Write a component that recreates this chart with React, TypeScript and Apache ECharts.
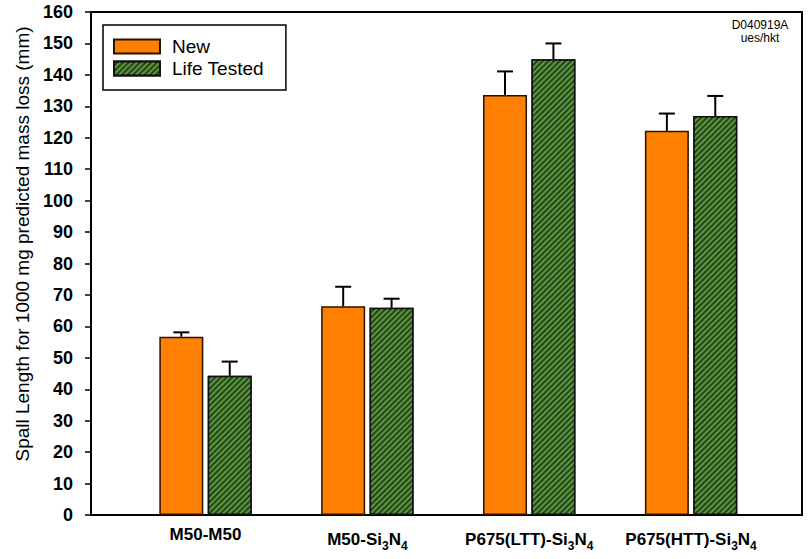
import React, { useEffect, useRef } from "react";
import * as echarts from "echarts";

const categories = ["M50-M50", "M50-Si3N4", "P675(LTT)-Si3N4", "P675(HTT)-Si3N4"];
const seriesNames = ["New", "Life Tested"];
const newValues = [56.7, 66.4, 133.6, 122.2];
const newErrors = [1.4, 6.2, 7.5, 5.5];
const lifeValues = [44.3, 65.9, 145.0, 126.9];
const lifeErrors = [4.5, 2.9, 5.0, 6.4];
const yMin = 0;
const yMax = 160;
const yInterval = 10;
const yTitle = "Spall Length for 1000 mg predicted mass loss (mm)";
const stampLines = ["D040919A", "ues/hkt"];

const FONT = '"Liberation Sans", Arial, Helvetica, sans-serif';
const BAR_W = 44;
const BAR_GAP = 0.1;
const OFFSET = BAR_W / 2 + (BAR_W * BAR_GAP) / 2;

function fmtLabel(s: string) {
  return s.replace(/Si3N4/, "Si{s|3}N{s|4}");
}

function errSeries(name: string, values: number[], errors: number[], offset: number) {
  return {
    type: "custom",
    name,
    xAxisIndex: 1,
    yAxisIndex: 1,
    z: 5,
    data: values.map((v, i) => [i, v, v + errors[i]]),
    renderItem: (params: any, api: any) => {
      const p0 = api.coord([api.value(0), api.value(1)]);
      const p1 = api.coord([api.value(0), api.value(2)]);
      const x = p0[0] + offset;
      return {
        type: "group",
        children: [
          { type: "line", shape: { x1: x, y1: p0[1], x2: x, y2: p1[1] }, style: { stroke: "#000", lineWidth: 2 } },
          { type: "line", shape: { x1: x - 8, y1: p1[1], x2: x + 8, y2: p1[1] }, style: { stroke: "#000", lineWidth: 2 } },
        ],
      };
    },
  };
}

export default function App() {
  const ref = useRef<HTMLDivElement>(null);
  useEffect(() => {
    if (!ref.current) return;
    const chart = echarts.init(ref.current, undefined, { renderer: "svg" });
    chart.setOption({
      animation: false,
      backgroundColor: "#fff",
      textStyle: { fontFamily: FONT },
      grid: [
        { left: 91, right: 8, top: 12, bottom: 44, show: true, borderColor: "#000", borderWidth: 2, backgroundColor: "transparent" },
        { left: 124.6, right: 38, top: 12, bottom: 44 },
      ],
      xAxis: [
        { gridIndex: 0, type: "value", min: 0, max: 1, show: false },
        {
          gridIndex: 1,
          type: "category",
          data: categories,
          axisLine: { show: false },
          axisTick: { show: false },
          axisLabel: {
            interval: 0,
            margin: 11,
            fontSize: 17,
            fontWeight: "bold",
            color: "#000",
            fontFamily: FONT,
            formatter: (v: string) => fmtLabel(v),
            rich: {
              s: { fontSize: 12, fontWeight: "bold", color: "#000", fontFamily: FONT, lineHeight: 26, verticalAlign: "bottom" },
            },
          },
        },
      ],
      yAxis: [
        {
          gridIndex: 0,
          type: "value",
          min: yMin,
          max: yMax,
          interval: yInterval,
          axisLine: { show: true, lineStyle: { color: "#000", width: 2 } },
          axisTick: { show: true, inside: false, length: 6, lineStyle: { color: "#000", width: 1.5 } },
          axisLabel: { margin: 18, fontSize: 18, fontWeight: "bold", color: "#000", fontFamily: FONT },
          splitLine: { show: false },
        },
        { gridIndex: 1, type: "value", min: yMin, max: yMax, interval: yInterval, show: false },
      ],
      legend: {
        data: seriesNames,
        orient: "vertical",
        left: 103,
        top: 25,
        padding: [12, 22, 12, 10],
        itemGap: 3,
        itemWidth: 46,
        itemHeight: 14,
        borderColor: "#000",
        borderWidth: 1.5,
        icon: "rect",
        textStyle: { fontSize: 19, color: "#000", fontFamily: FONT, padding: [0, 0, 0, 7] },
      },
      series: [
        {
          type: "bar",
          name: seriesNames[0],
          xAxisIndex: 1,
          yAxisIndex: 1,
          data: newValues,
          barWidth: BAR_W,
          barGap: BAR_GAP * 100 + "%",
          itemStyle: { color: "#FF7F00", borderColor: "#2a1200", borderWidth: 1.5 },
        },
        {
          type: "bar",
          name: seriesNames[1],
          xAxisIndex: 1,
          yAxisIndex: 1,
          data: lifeValues,
          barWidth: BAR_W,
          barGap: BAR_GAP * 100 + "%",
          itemStyle: {
            color: "#24461b",
            borderColor: "#111",
            borderWidth: 1.5,
            decal: {
              symbol: "rect",
              symbolSize: 1,
              dashArrayX: [1, 0],
              dashArrayY: [2, 2],
              rotation: -Math.PI / 4,
              color: "#5e963e",
            },
          },
        },
        errSeries("New", newValues, newErrors, -OFFSET),
        errSeries("Life Tested", lifeValues, lifeErrors, OFFSET),
      ],
      graphic: [
        {
          type: "text",
          x: 22,
          y: 244,
          rotation: Math.PI / 2,
          style: { text: yTitle, font: `19px ${FONT}`, fill: "#000", textAlign: "center", textVerticalAlign: "middle" },
        },
        {
          type: "text",
          x: 760,
          y: 19,
          style: { text: stampLines[0], font: `12px ${FONT}`, fill: "#000", textAlign: "center", textVerticalAlign: "top" },
        },
        {
          type: "text",
          x: 760,
          y: 32,
          style: { text: stampLines[1], font: `12px ${FONT}`, fill: "#000", textAlign: "center", textVerticalAlign: "top" },
        },
      ],
    });
    return () => chart.dispose();
  }, []);
  return <div ref={ref} style={{ position: "fixed", left: 0, top: 0, width: 810, height: 559 }} />;
}
